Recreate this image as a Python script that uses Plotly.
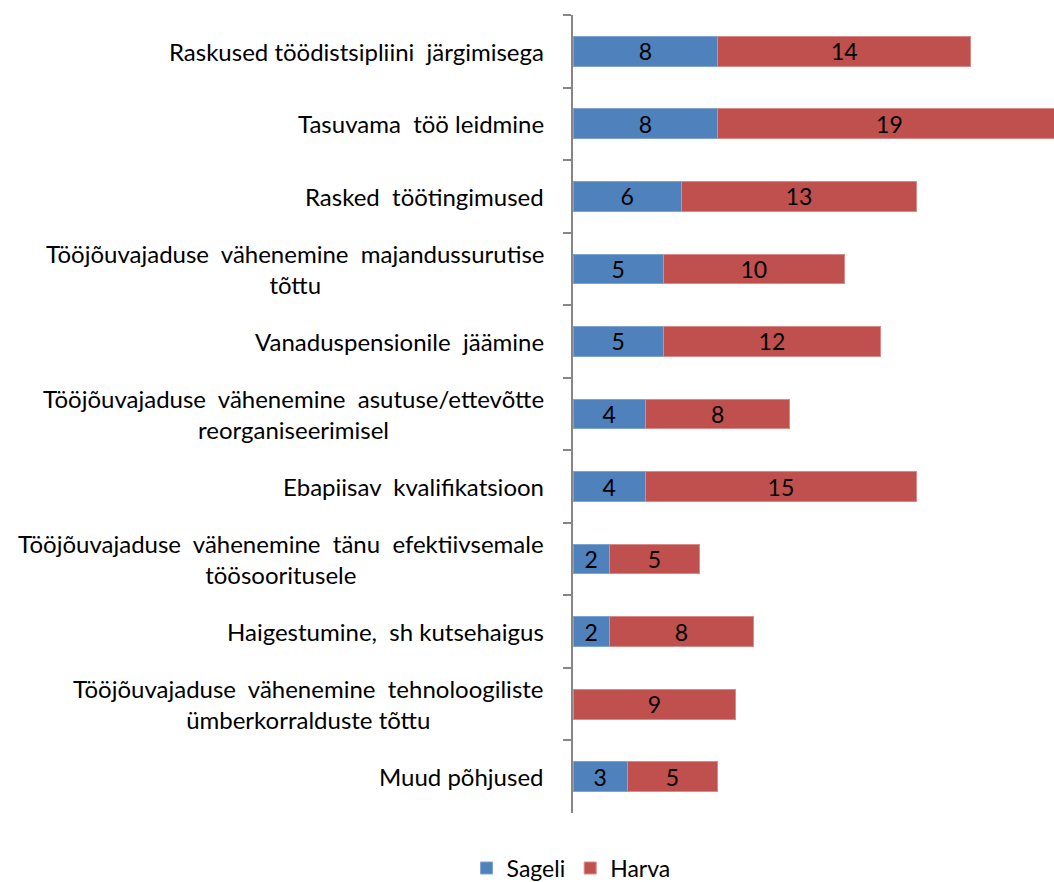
import plotly.graph_objects as go

categories = [
    'Raskused töödistsipliini  järgimisega',
    'Tasuvama  töö leidmine',
    'Rasked  töötingimused',
    'Tööjõuvajaduse  vähenemine  majandussurutise<br>tõttu',
    'Vanaduspensionile  jäämine',
    'Tööjõuvajaduse  vähenemine  asutuse/ettevõtte<br>reorganiseerimisel',
    'Ebapiisav  kvalifikatsioon',
    'Tööjõuvajaduse  vähenemine  tänu  efektiivsemale<br>töösooritusele',
    'Haigestumine,  sh kutsehaigus',
    'Tööjõuvajaduse  vähenemine  tehnoloogiliste<br>ümberkorralduste tõttu',
    'Muud põhjused',
]
sageli = [8, 8, 6, 5, 5, 4, 4, 2, 2, 0, 3]
harva = [14, 19, 13, 10, 12, 8, 15, 5, 8, 9, 5]

COLORS = {'sageli': '#4F81BD', 'harva': '#C0504D', 'axis': '#868686'}
FONT = 'Lato, Calibri, sans-serif'

fig = go.Figure()

for name, vals, col, edge in [('Sageli', sageli, COLORS['sageli'], '#7EA3D1'),
                              ('Harva', harva, COLORS['harva'], '#D88A88')]:
    fig.add_trace(go.Bar(
        y=categories, x=vals, name=name, orientation='h',
        marker={'color': col, 'line': {'width': 1, 'color': edge}},
        text=[str(v) if v else '' for v in vals],
        textposition='inside', insidetextanchor='middle', textangle=0,
        constraintext='none',
        textfont={'size': 23, 'color': '#000000', 'family': FONT},
    ))

# category labels as centred multi-line annotations (Excel style)
for cat in categories:
    fig.add_annotation(
        x=0, xref='paper', y=cat, yref='y', text=cat.replace('  ', ' &nbsp;'),
        xanchor='right', xshift=-27, align='center', showarrow=False,
        font={'size': 24, 'color': '#000000', 'family': FONT},
    )

fig.update_xaxes(range=[0, 26.6], visible=False, showgrid=False, zeroline=False)
fig.update_yaxes(
    type='category', autorange='reversed', showticklabels=False,
    showline=True, linecolor=COLORS['axis'], linewidth=2,
    ticks='outside', ticklen=8, tickcolor=COLORS['axis'], tickwidth=2,
    tickson='boundaries', showgrid=False,
)

# figure is a little taller than the window: the legend is cut at the bottom edge like the original
fig.update_layout(
    barmode='stack', bargap=0.59,
    width=1054, height=902,
    plot_bgcolor='white', paper_bgcolor='white',
    margin={'l': 573, 'r': 0, 't': 15, 'b': 89},
    font={'family': FONT, 'color': '#000000', 'size': 23},
    legend={'orientation': 'h', 'traceorder': 'normal',
            'x': -0.004, 'xanchor': 'center', 'y': -0.069, 'yanchor': 'middle',
            'font': {'size': 23}, 'itemwidth': 30},
    uniformtext={'mode': 'show', 'minsize': 23},
)

# drop the default page margin so the figure fills the window exactly
fig.write_html('out.html', config={'displayModeBar': False}, post_script=(
    "document.body.style.margin='0';"
    "document.documentElement.style.overflow='hidden';"
))
